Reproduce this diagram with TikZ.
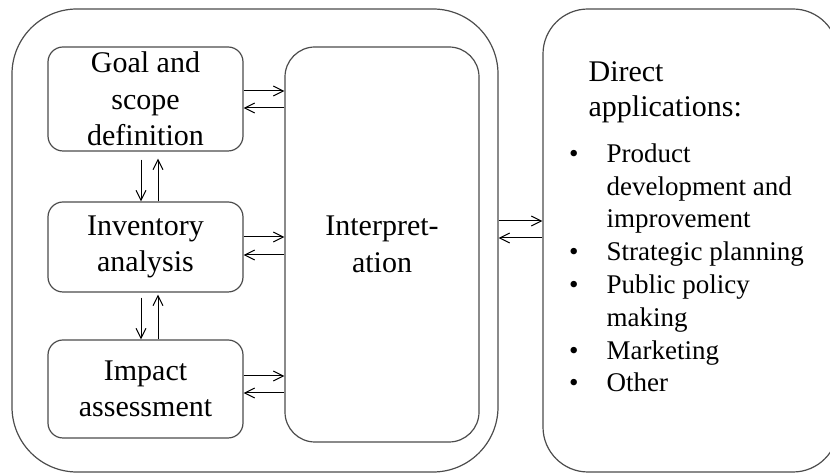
\documentclass[tikz,border=0pt]{standalone}
\usepackage{fontspec}
\setmainfont{Liberation Serif}
\usepackage{tikz}
\usetikzlibrary{arrows.meta,calc}
\newcommand{\bul}{\llap{\textbullet\hspace{14pt}}}

\begin{document}
\begin{tikzpicture}[x=0.5pt,y=-0.5pt,>={Straight Barb[length=5pt,width=5pt]},
                    semithick]
  \tikzstyle{frame}=[rectangle,draw=black!70,line width=0.6pt,inner sep=0pt]
  \tikzstyle{stage}=[frame,rounded corners=7.5pt,minimum width=97.5pt,align=center,
                     font=\fontsize{15}{18.25}\selectfont]
  \tikzstyle{link}=[->,line width=0.5pt,black]

  \useasboundingbox (0,0) rectangle (830,474);

  \node[frame,rounded corners=32.5pt,minimum width=243pt,minimum height=231.5pt] (lca) at (255,240.5) {};
  \node[frame,rounded corners=22.5pt,minimum width=147.5pt,minimum height=231.5pt] (apps) at (690.5,240.5) {};

  \node[stage,minimum height=52pt] (goal) at (145.5,99)  {Goal and\\scope\\definition};
  \node[stage,minimum height=45pt] (inv)  at (145.5,247) {Inventory\\analysis};
  \node[stage,minimum height=49pt] (imp)  at (145.5,389) {Impact\\assessment};
  \node[stage,rounded corners=15pt,minimum width=97pt,minimum height=197.5pt] (interp) at (382,244.5) {Interpret-\\ation};

  % base of a multi-line node = its last line
  \node[anchor=base west,align=left,inner sep=0pt,font=\fontsize{15}{17.5}\selectfont] (head) at (588,117)
    {Direct\\applications:};
  \node[anchor=base west,align=left,inner sep=0pt,font=\fontsize{13.5}{16.4}\selectfont] (uses) at (606,392)
    {\bul Product\\development and\\improvement\\\bul Strategic planning\\\bul Public policy\\making\\\bul Marketing\\\bul Other};

  % stages <-> interpretation
  \draw[link] (goal.east |- 0,91)  -- (interp.west |- 0,91);
  \draw[link] (interp.west |- 0,108) -- (goal.east |- 0,108);
  \draw[link] (inv.east |- 0,237)  -- (interp.west |- 0,237);
  \draw[link] (interp.west |- 0,255) -- (inv.east |- 0,255);
  \draw[link] (imp.east |- 0,376)  -- (interp.west |- 0,376);
  \draw[link] (interp.west |- 0,393) -- (imp.east |- 0,393);

  % between stages
  \draw[link,shorten <=4pt] (goal.south -| 141,0) -- (inv.north -| 141,0);
  \draw[link,shorten >=3.5pt] (inv.north -| 158,0) -- (goal.south -| 158,0);
  \draw[link,shorten <=2.5pt] (inv.south -| 141,0) -- (imp.north -| 141,0);
  \draw[link,shorten >=1pt] (imp.north -| 158,0) -- (inv.south -| 158,0);

  % framework <-> applications
  \draw[link] (lca.east |- 0,221) -- (apps.west |- 0,221);
  \draw[link] (apps.west |- 0,238) -- (lca.east |- 0,238);

\end{tikzpicture}
\end{document}
